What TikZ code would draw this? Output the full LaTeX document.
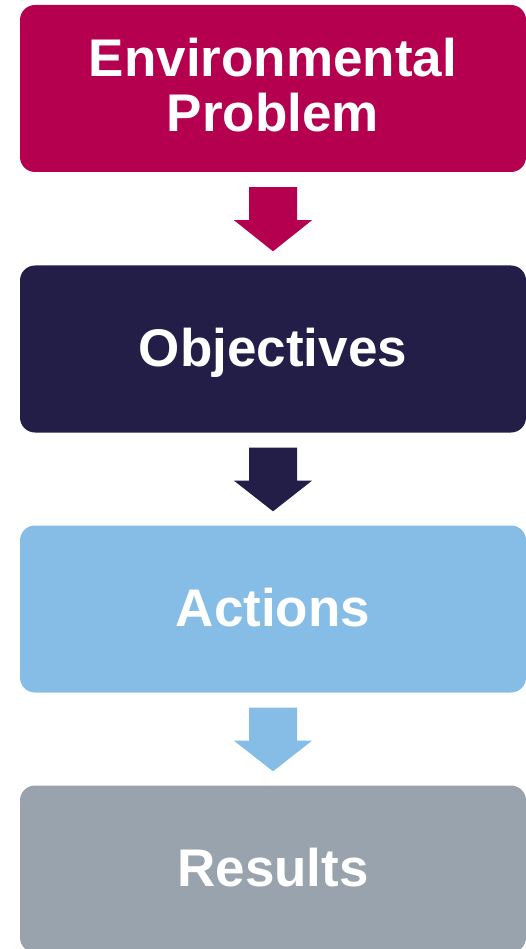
\documentclass[tikz,border=0pt]{standalone}
\usepackage{fontspec}
\setmainfont{Liberation Sans}
\usetikzlibrary{positioning,calc}
\definecolor{cprob}{HTML}{B5004F}
\definecolor{cobj}{HTML}{221E47}
\definecolor{cact}{HTML}{85BDE6}
\definecolor{cres}{HTML}{98A3AD}
\begin{document}
\begin{tikzpicture}[x=1pt,y=-1pt,
  stagebox/.style={rounded corners=15pt, minimum width=506pt, minimum height=167pt,
    inner sep=0pt, text=white, align=center, text height=38pt, text depth=4pt,
    font=\fontsize{53}{55}\selectfont\bfseries}]
\useasboundingbox (0,0) rectangle (526,949);
\fill[white] (0,0) rectangle (526,949);
\node[stagebox, fill=cprob, text height=92pt, text depth=5pt] (p) at (273,88.5) {Environmental\\Problem};
\node[stagebox, fill=cobj] (o) at (273,349) {Objectives};
\node[stagebox, fill=cact] (a) at (273,609) {Actions};
\node[stagebox, fill=cres] (r) at (273,869) {Results};
\foreach \s/\t/\c in {p/o/cprob, o/a/cobj, a/r/cact}{
  \fill[\c] ($(\s.south)+(-24,15)$) -- ++(48,0) -- ++(0,33) -- ++(15,0)
     -- ($(\t.north)+(0,-14)$) -- ($(\s.south)+(-39,48)$) -- ++(15,0) -- cycle;
}
\end{tikzpicture}
\end{document}
